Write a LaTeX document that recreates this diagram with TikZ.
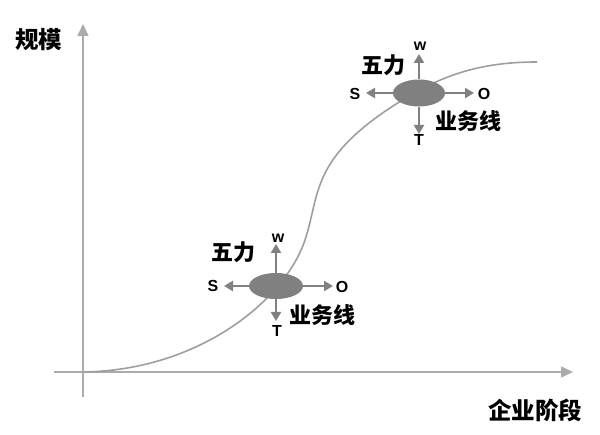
\documentclass[tikz,border=0pt]{standalone}
\usepackage{fontspec}
\setmainfont{Liberation Sans}
\newfontfamily\cjk{Noto Sans CJK SC}
\usetikzlibrary{arrows.meta,shapes.geometric}
\begin{document}
\begin{tikzpicture}[x=1pt,y=-1pt,
  axis/.style={draw=black!33,line width=1.5pt,-{Triangle[length=12pt,width=11pt]}},
  curve/.style={draw=black!38,line width=1.6pt},
  blob/.style={ellipse,fill=black!50,draw=none,inner sep=0pt},
  force/.style={draw=black!50,line width=2.2pt,-{Triangle[length=9pt,width=10pt]}},
  letter/.style={font=\fontsize{16}{16}\selectfont\bfseries,text=black,inner sep=0pt},
  cjklab/.style={font=\fontsize{22}{22}\selectfont\cjk\bfseries,text=black,inner sep=0pt},
  axlab/.style={font=\fontsize{23.5}{23.5}\selectfont\cjk\bfseries,text=black,inner sep=0pt}]
\useasboundingbox (0,0) rectangle (600,435);
% axes
\coordinate (ybot) at (83,397);
\coordinate (ytop) at (83,24);
\coordinate (xleft) at (54,372);
\coordinate (xright) at (573,372);
\draw[axis] (ybot) -- (ytop);
\draw[axis] (xleft) -- (xright);
\node[axlab] (ylab) at (39,40) {规模};
\node[axlab] (xlab) at (535,410) {企业阶段};
% S-curve
\coordinate (c0) at (84,372);
\coordinate (c1) at (305,240);
\coordinate (c2) at (393,106);
\coordinate (c3) at (537,62);
\draw[curve] (c0) .. controls (200,370) and (285,300) .. (c1)
  .. controls (320,195) and (310,160) .. (c2)
  .. controls (440,75) and (480,62) .. (c3);
% lower blob
\node[blob,minimum width=54pt,minimum height=26pt] (e1) at (276,286) {};
\coordinate (w1) at (276,244);
\coordinate (s1) at (224,286);
\coordinate (o1) at (333,286);
\coordinate (t1) at (276,321);
\draw[force] (e1.north) -- (w1);
\draw[force] (e1.west) -- (s1);
\draw[force] (e1.east) -- (o1);
\draw[force] (e1.south) -- (t1);
\node[letter] (lw1) at (278,238) {w};
\node[letter] (ls1) at (213,286) {S};
\node[letter] (lo1) at (342,287) {O};
\node[letter] (lt1) at (277,331) {T};
\node[cjklab] (f1) at (233,252) {五力};
\node[cjklab] (b1) at (322,315) {业务线};
% upper blob
\node[blob,minimum width=52pt,minimum height=27pt] (e2) at (419,93) {};
\coordinate (w2) at (419,54);
\coordinate (s2) at (366,93);
\coordinate (o2) at (474,93);
\coordinate (t2) at (419,134);
\draw[force] (e2.north) -- (w2);
\draw[force] (e2.west) -- (s2);
\draw[force] (e2.east) -- (o2);
\draw[force] (e2.south) -- (t2);
\node[letter] (lw2) at (420,46) {w};
\node[letter] (ls2) at (355,94) {S};
\node[letter] (lo2) at (484,94) {O};
\node[letter] (lt2) at (419,140) {T};
\node[cjklab] (f2) at (383,65) {五力};
\node[cjklab] (b2) at (468,121) {业务线};
\end{tikzpicture}
\end{document}
